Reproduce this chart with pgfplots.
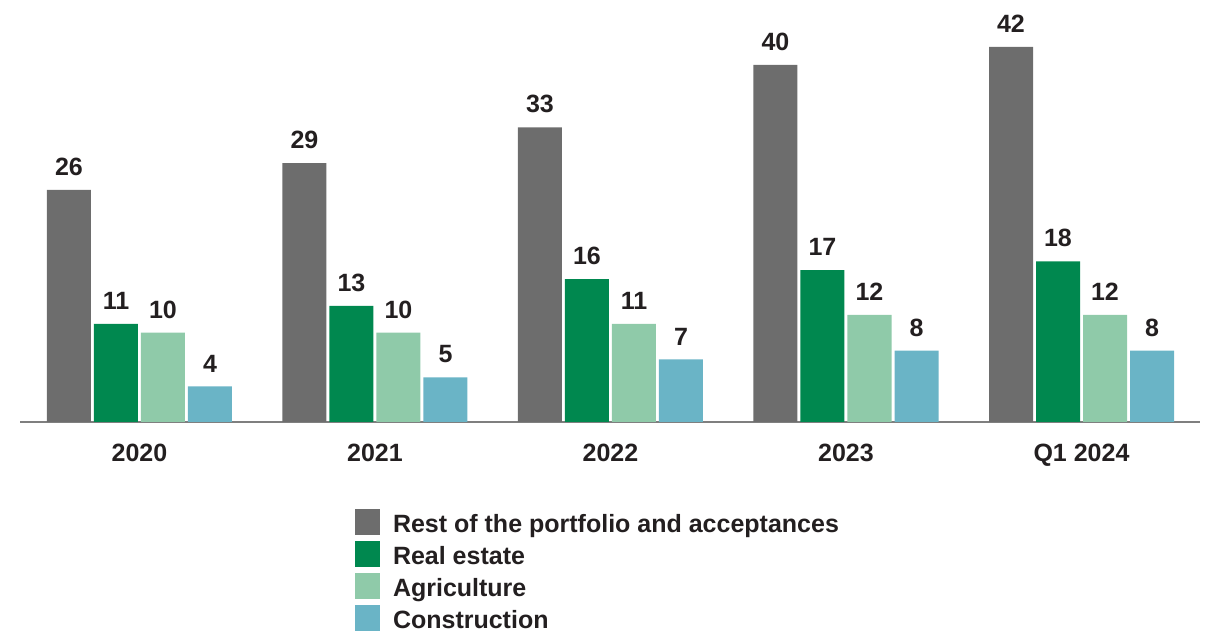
\documentclass[border=0pt]{standalone}
\usepackage{pgfplots}
\pgfplotsset{compat=1.18}
\usepackage{fontspec}
\setmainfont{Liberation Sans}
\definecolor{cgray}{HTML}{6D6D6D}
\definecolor{cdgreen}{HTML}{00884F}
\definecolor{clgreen}{HTML}{8FCAA9}
\definecolor{cblue}{HTML}{6AB4C6}
\definecolor{textc}{HTML}{231F20}
\definecolor{axisc}{HTML}{7F7F7F}
\newcommand{\lblfont}{\fontsize{25pt}{30pt}\selectfont\bfseries}
\begin{document}
\begin{tikzpicture}
\useasboundingbox (0,0) rectangle (1211pt,631pt);
\begin{axis}[
  at={(20pt,209pt)}, anchor=south west,
  scale only axis, x=235.5pt, y=8.93pt,
  xmin=-0.5074, xmax=4.5032, ymin=0, ymax=47,
  enlargelimits=false,
  axis y line=none, axis x line*=bottom,
  x axis line style={-, draw=axisc, line width=1.8pt},
  xtick={0,1,2,3,4},
  xticklabels={2020,2021,2022,2023,Q1 2024},
  major tick length=0pt,
  xticklabel style={font=\lblfont, text=textc, anchor=base, inner sep=0pt, yshift=-40pt},
  ybar=3pt, bar width=44pt,
  nodes near coords={\pgfmathprintnumber[assume math mode=true]{\pgfplotspointmeta}},
  every node near coord/.append style={font=\lblfont, text=textc, anchor=south, inner sep=0pt, yshift=14pt},
  legend style={at={(axis description cs:0.2839,-0.2073)}, anchor=north west,
    draw=none, fill=none, inner sep=0pt, outer sep=0pt, row sep=6pt,
    font=\lblfont, text=textc,
    cells={anchor=base west},
    nodes={inner sep=0pt, outer sep=0pt, text height=23pt, text depth=3pt, anchor=base west},
    /tikz/every odd column/.append style={column sep=13pt}},
]
\addplot[fill=cgray, draw=none, legend image code/.code={\fill[cgray] (0pt,-3pt) rectangle (25pt,23pt);}]
  coordinates {(0,26) (1,29) (2,33) (3,40) (4,42)};
\addplot[fill=cdgreen, draw=none, legend image code/.code={\fill[cdgreen] (0pt,-3pt) rectangle (25pt,23pt);}]
  coordinates {(0,11) (1,13) (2,16) (3,17) (4,18)};
\addplot[fill=clgreen, draw=none, legend image code/.code={\fill[clgreen] (0pt,-3pt) rectangle (25pt,23pt);}]
  coordinates {(0,10) (1,10) (2,11) (3,12) (4,12)};
\addplot[fill=cblue, draw=none, legend image code/.code={\fill[cblue] (0pt,-3pt) rectangle (25pt,23pt);}]
  coordinates {(0,4) (1,5) (2,7) (3,8) (4,8)};
\legend{Rest of the portfolio and acceptances, Real estate, Agriculture, Construction}
\end{axis}
\end{tikzpicture}
\end{document}
